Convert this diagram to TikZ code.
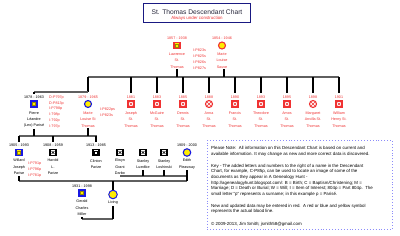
\documentclass[tikz,border=0pt]{standalone}
\usepackage{fontspec}
\setmainfont{Liberation Sans}
\definecolor{myred}{RGB}{240,50,50}
\definecolor{myblue}{RGB}{25,25,225}
\definecolor{myyel}{RGB}{255,236,0}
\definecolor{navy}{RGB}{25,25,130}
\definecolor{barc}{RGB}{95,95,95}
\definecolor{dotc}{RGB}{140,140,250}
\definecolor{inol}{RGB}{150,140,0}
\definecolor{ttc}{RGB}{40,40,60}
\begin{document}
\begin{tikzpicture}[x=1pt,y=-1pt,
  sm/.style={font=\fontsize{3.7}{6.4}\selectfont, inner sep=0, align=center},
  rt/.style={sm, text=myred},
  bt/.style={sm, text=black},
  src/.style={font=\fontsize{3.7}{5.9}\selectfont, inner sep=0, align=left, anchor=north west, text=myred},
  note/.style={font=\fontsize{4.4}{5}\selectfont, inner sep=0, anchor=west},
  ico/.style={inner sep=0, line width=1.1pt},
  sq/.style={ico, rectangle, minimum size=6pt},
  ci/.style={ico, circle, minimum size=7pt},
  yel/.style={fill=myyel, path picture={\draw[line width=0.35pt, draw=inol] ([xshift=1.5pt,yshift=1.5pt]path picture bounding box.south west) rectangle ([xshift=-1.5pt,yshift=-1.5pt]path picture bounding box.north east);}},
  xx/.style={fill=white, path picture={\draw[#1, line width=0.4pt] ([xshift=1.5pt,yshift=1.5pt]path picture bounding box.south west) -- ([xshift=-1.5pt,yshift=-1.5pt]path picture bounding box.north east) ([xshift=1.5pt,yshift=-1.5pt]path picture bounding box.north west) -- ([xshift=-1.5pt,yshift=1.5pt]path picture bounding box.south east);}},
  vl/.style={draw=black, line width=1.1pt},
  hl/.style={draw=barc, line width=1.1pt}]
\useasboundingbox (0,0) rectangle (400,236);
\fill[white] (0,0) rectangle (400,236);

% title
\node[draw=navy, line width=0.9pt, fill=white, minimum width=107pt, minimum height=19.5pt, inner sep=0] (title) at (197,13) {};
\node[inner sep=0, font=\fontsize{6.7}{7}\selectfont, text=ttc] (ttxt) at (197,12.3) {St. Thomas Descendant Chart};
\node[inner sep=0, font=\fontsize{4.4}{5}\selectfont, text=myred] (tsub) at (197,18.6) {Always under construction};

% top couple
\node[rt] (lawD) at (177,38) {1857 - 1938};
\node[sq, draw=myred, yel] (lawI) at (177,45.5) {};
\node[rt] (lawN) at (177,60.5) {Lawrence\\St.\\Thomas};
\node[src] (lawS) at (193,48.8) {I-P823s\\I-P825s\\I-P826s\\I-P827s};
\node[rt] (msD) at (222,38) {1854 - 1946};
\node[ci, draw=myred, fill=myyel] (msI) at (222,45.5) {};
\node[rt] (msN) at (222,60.5) {Marie\\Louise\\Sauve};

\coordinate (b1L) at (88,77);
\coordinate (b1R) at (339,77);
\draw[hl] (b1L) -- (b1R);
\draw[vl] ([yshift=-1pt]lawN.south) -- (lawN.south |- b1L);
\draw[vl] ([yshift=-1pt,xshift=2pt]msN.south) -- ([xshift=2pt]msN.south |- b1L);

% children of Lawrence and Marie
\foreach \id/\x/\yr/\shp/\nm in {jo/131/1881/sq/{Joseph\\St.\\Thomas},
  mc/157/1883/sq/{McGuire\\St.\\Thomas},
  de/183/1885/sq/{Dennis\\St.\\Thomas},
  an/209/1888/ci/{Anna\\St.\\Thomas},
  fr/235/1890/sq/{Francis\\St.\\Thomas},
  th/261/1893/sq/{Theodore\\St.\\Thomas},
  am/287/1895/sq/{Amos\\St.\\Thomas},
  ma/313/1898/ci/{Margaret\\Anvilla St.\\Thomas},
  wi/339/1901/sq/{William\\Henry St.\\Thomas}}{
  \node[rt] (\id D) at (\x,97) {\yr};
  \node[\shp, draw=myred, xx=myred] (\id I) at (\x,104) {};
  \node[rt] (\id N) at (\x,119.5) {\nm};
  \draw[vl] (\id D.north |- b1L) -- ([yshift=2pt]\id D.north);
}

% Marie Louise St Thomas and Pierre
\node[rt] (mlD) at (88,97) {1879 - 1965};
\node[ci, draw=myblue, fill=myyel] (mlI) at (88,104) {};
\node[rt] (mlN) at (88,119.5) {Marie\\Louise St\\Thomas};
\node[src] (mlS) at (100,107.6) {I-P822ps\\I-P823s};
\node[bt] (plD) at (34,97) {1878 - 1963};
\node[sq, draw=myblue, yel] (plI) at (34,104) {};
\node[bt] (plN) at (34,119.5) {Pierre\\Léandre\\(Leo) Parisé};
\node[src] (plS) at (49,95.4) {D-P797p\\D-P813p\\I-P798p\\I-798p\\I-792p\\I-797p};
\coordinate (m1) at (34,92);
\draw[vl] (mlD.north |- b1L) -- (mlD.north |- m1);
\draw[hl] (m1) -- (mlD.north |- m1);
\draw[vl] (m1) -- ([yshift=1pt]plD.north);

\coordinate (b2L) at (19,136);
\coordinate (b2R) at (97,136);
\draw[hl] (b2L) -- (b2R);
\draw[vl] ([yshift=-1pt]plN.south) -- (plN.south |- b2L);
\draw[vl] ([yshift=-1pt]mlN.south) -- (mlN.south |- b2L);

% grandchildren row
\node[bt] (wjD) at (19,145) {1905 - 1993};
\node[sq, draw=myblue, yel] (wjI) at (19,152.5) {};
\node[bt] (wjN) at (19,167) {Willard\\Joseph\\Parise};
\node[src] (wjS) at (28,161.6) {I-P791p\\I-P796p\\I-P781p};
\node[bt] (hlD) at (53,145) {1908 - 1959};
\node[sq, draw=black, xx=black] (hlI) at (53,152.5) {};
\node[bt] (hlN) at (53,167) {Harold\\L.\\Parize};
\node[bt] (clD) at (96,145) {1913 - 1985};
\node[sq, draw=black, fill=white, path picture={\draw[line width=0.4pt] ([xshift=1.6pt,yshift=1.6pt]path picture bounding box.south west) rectangle ([xshift=-1.6pt,yshift=-1.6pt]path picture bounding box.north east);}] (clI) at (96,152.5) {};
\node[bt] (clN) at (96,164) {Clinton\\Parize};
\foreach \n in {wjD,hlD,clD}{
  \draw[vl] (\n.north |- b2L) -- ([yshift=1.5pt]\n.north);
}
\node[sq, draw=black, xx=black] (egI) at (120,152.5) {};
\node[bt] (egN) at (120,167) {Elwyn\\Grant\\Darbo};
\node[sq, draw=black, xx=black] (s1I) at (143,152.5) {};
\node[bt] (s1N) at (143,164) {Stanley\\Luedtke};
\node[sq, draw=black, xx=black] (s2I) at (164,152.5) {};
\node[bt] (s2N) at (164,164) {Stanley\\Loshinski};
\node[bt] (epD) at (187,145) {1909 - 2000};
\node[ci, draw=myblue, fill=myyel, minimum size=7.5pt] (epI) at (187,152.5) {};
\node[bt] (epN) at (187,164) {Edith\\Pleasway};

% Edith's spouses bar
\coordinate (b4L) at (120,176);
\coordinate (b4R) at (187,176);
\draw[hl] (b4L) -- (b4R);
\draw[vl] ([yshift=-1pt]s1N.south) -- (s1N.south |- b4L);
\draw[vl] ([yshift=-1pt]s2N.south) -- (s2N.south |- b4L);

% Willard + Edith bar
\coordinate (b3L) at (19,181);
\coordinate (b3R) at (187,181);
\draw[hl] (b3L) -- (b3R);
\draw[vl] ([yshift=-1pt]wjN.south) -- (wjN.south |- b3L);
\draw[vl] ([yshift=-1pt]epN.south) -- (epN.south |- b3L);

% Living and Gerald
\node[ci, draw=myblue, fill=myyel, minimum size=8.5pt, line width=1pt] (livI) at (113,194.5) {};
\node[bt] (livN) at (113,203) {Living};
\draw[vl] (livI.north |- b3L) -- (livI.north);
\node[bt] (gmD) at (82,186) {1931 - 1998};
\node[sq, draw=myblue, yel] (gmI) at (82,193) {};
\node[bt] (gmN) at (82,208) {Gerald\\Charles\\Miller};
\coordinate (m3) at (82,219);
\draw[hl] (m3) -- (livN.south |- m3);
\draw[vl] ([yshift=-1pt]livN.south) -- (livN.south |- m3);
\draw[vl] ([yshift=-1pt]gmN.south) -- (m3);

% note box
\node[draw=dotc, dotted, line width=0.9pt, fill=white, minimum width=185pt, minimum height=89pt, anchor=north west, inner sep=0] (nbox) at (207,140) {};
\node[note] (n1) at (211,148) {Please Note:\ \ All information on this Descendant Chart is based on current and};
\node[note] (n2) at (211,154) {available information. It may change as new and more correct data is discovered.};
\node[note] (n3) at (211,166) {Key - The added letters and numbers to the right of a name in the Descendant};
\node[note] (n4) at (211,171.7) {Chart, for example, C-P85p, can be used to locate an image of some of the};
\node[note] (n5) at (211,177.4) {documents as they appear in A Genealogy Hunt -};
\node[note] (n6) at (211,183.1) {http://agenealogyhunt.blogspot.com/: B = Birth; C = Baptism/Christening; M =};
\node[note] (n7) at (211,188.8) {Marriage; D = Death or Burial; W = Will; I = Item of Interest; 804p = Part 804p.\ \ The};
\node[note] (n8) at (211,194.5) {small letter "p" represents a surname; in this example p = Parisé.};
\node[note] (n9) at (211,206) {New and updated data may be entered in red.\ \ A red or blue and yellow symbol};
\node[note] (n10) at (211,211.7) {represents the actual blood line.};
\node[note] (n11) at (211,224.5) {© 2009-2013, Jim Smith; jsmith58@gmail.com};
\end{tikzpicture}
\end{document}
